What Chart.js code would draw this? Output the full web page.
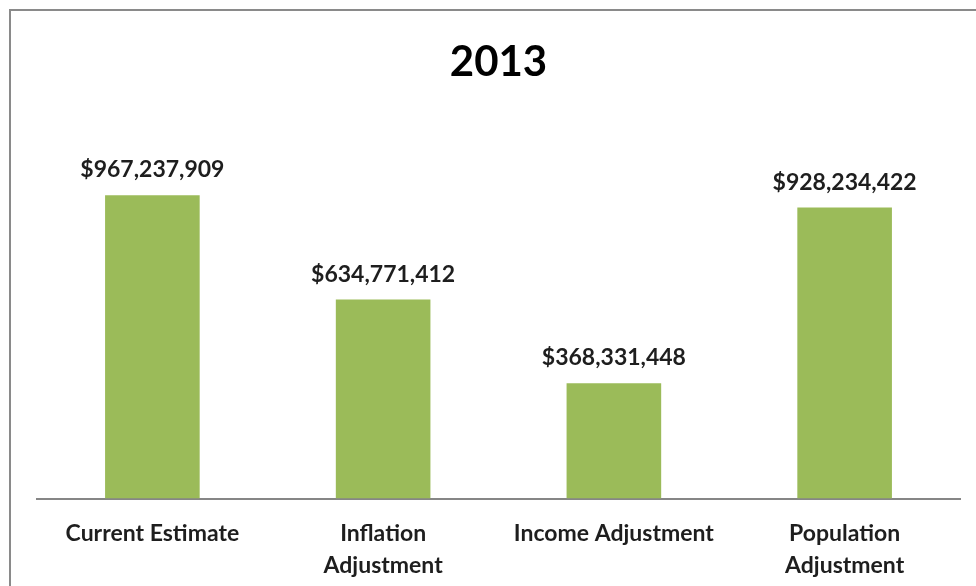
<!DOCTYPE html>
<html>
<head>
<meta charset="utf-8">
<script src="https://cdn.jsdelivr.net/npm/chart.js@4"></script>
<style>
  html, body { margin: 0; padding: 0; background: #fff; overflow: hidden; }
  #frame {
    position: absolute; left: 9px; top: 9px;
    width: 1000px; height: 620px;
    border: 2px solid #8a8a8a; box-sizing: border-box;
    overflow: hidden;
  }
  #wrap { position: absolute; left: 0; top: 0; width: 965px; height: 590px; }
</style>
</head>
<body>
<div id="frame"><div id="wrap"><canvas id="myChart"></canvas></div></div>
<script>
'use strict';
const chartTitle = '2013';
const categories = [
  'Current Estimate',
  ['Inflation', 'Adjustment'],
  'Income Adjustment',
  ['Population', 'Adjustment'],
];
const amounts = [967237909, 634771412, 368331448, 928234422];
const yMax = 1200000000;

const fontFamily = 'Lato, "Open Sans", sans-serif';
const textColor = '#1e1e1e';

// writes the dollar amount over each bar
const valueLabels = {
  id: 'valueLabels',
  afterDatasetsDraw(chart) {
    const ctx = chart.ctx;
    const meta = chart.getDatasetMeta(0);
    ctx.save();
    ctx.font = 'bold 23px ' + fontFamily;
    ctx.fillStyle = textColor;
    ctx.textAlign = 'center';
    ctx.textBaseline = 'alphabetic';
    meta.data.forEach((bar, i) => {
      const v = chart.data.datasets[0].data[i];
      ctx.fillText('$' + v.toLocaleString('en-US'), bar.x, bar.y - 18);
    });
    ctx.restore();
  },
};

const ctx = document.getElementById('myChart');
const myChart = new Chart(ctx, {
  type: 'bar',
  data: {
    labels: categories,
    datasets: [
      {
        data: amounts,
        backgroundColor: '#9bbb59',
        borderWidth: 0,
        categoryPercentage: 1,
        barPercentage: 0.41,
      },
    ],
  },
  options: {
    responsive: true,
    maintainAspectRatio: false,
    animation: false,
    layout: { padding: { left: 26, right: 16, top: 0, bottom: 0 } },
    plugins: {
      legend: { display: false },
      tooltip: { enabled: false },
      title: {
        display: true,
        text: chartTitle,
        color: '#000',
        font: { family: fontFamily, size: 42, weight: 'bold' },
        padding: { top: 26, bottom: 35 },
      },
    },
    scales: {
      x: {
        grid: { display: false, drawTicks: false },
        border: { display: true, color: '#868686', width: 2 },
        ticks: {
          color: textColor,
          padding: 19,
          font: { family: fontFamily, size: 23, weight: 'bold', lineHeight: 1.4 },
          maxRotation: 0,
          autoSkip: false,
        },
      },
      y: {
        display: false,
        min: 0,
        max: yMax,
      },
    },
  },
  plugins: [valueLabels],
});
</script>
</body>
</html>
